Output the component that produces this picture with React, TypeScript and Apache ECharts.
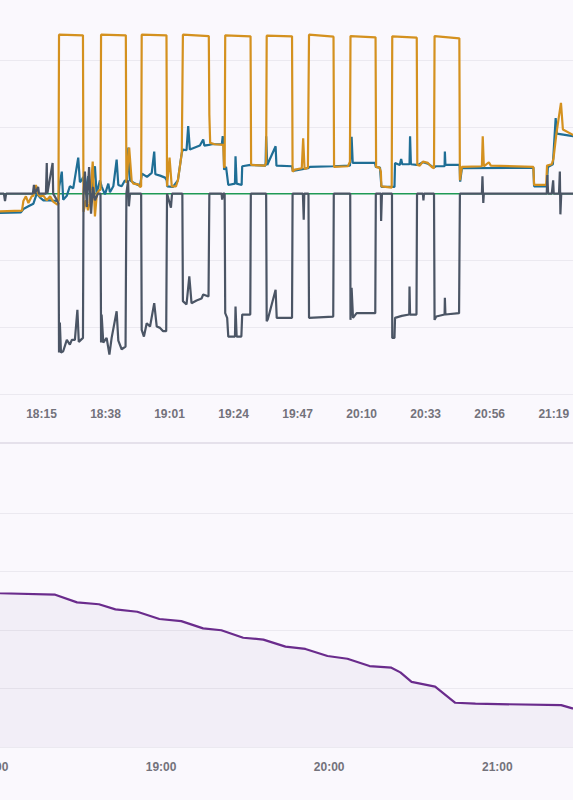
import React, { useEffect, useRef } from "react";
import * as echarts from "echarts";

// minutes are counted from 18:00
const BASE_MIN = 18 * 60;
const TOP_X_MIN = -8; // 17:52
const TOP_X_MAX = 222; // 21:42
const TOP_X_STEP = 23;
const BOTTOM_X_MIN = 0; // 18:00
const BOTTOM_X_MAX = 240; // 22:00
const BOTTOM_X_STEP = 60;

// Power series, W
const solarW: [number, number][] = [[-3, 0], [210, 0]];

const gridW: [number, number][] = [
  [-2.0, -262], [0.1, -265], [8.0, -255], [8.5, -110], [9.4, -40], [10.3, -140], [11.5, -40], [12.1, -30], [13.0, 130], [13.9, -20], [14.5, -40], [15.7, -30], [16.9, -100], [18.1, -40], [19.2, -120], [20.7, -165], [21.1, -150],
  [21.3, 2380], [29.9, 2370],
  [30.1, -270], [31.0, -100], [31.7, -250], [32.2, -150], [32.8, 100], [33.4, 480], [33.9, 0], [34.2, -340], [34.9, 0], [35.7, 50], [36.2, 60],
  [36.4, 2380], [45.3, 2370],
  [45.5, 160], [46.5, 690], [47.4, 190], [48.0, 150], [49.8, 140], [50.4, 100], [50.8, 110],
  [51.0, 2380], [59.9, 2370],
  [60.1, 110], [61.0, 540], [61.8, 110], [63.3, 110], [64.0, 200], [65.4, 610], [65.6, 610],
  [65.8, 2380], [75.1, 2360],
  [75.3, 1180], [75.6, 760], [77.3, 740], [80.3, 730], [80.6, 390], [80.8, 400],
  [81.0, 2370], [90.1, 2355],
  [90.3, 430], [95.3, 420], [95.7, 470],
  [95.9, 2365], [105.0, 2355],
  [105.2, 330], [106.0, 360], [108.5, 380], [109.0, 830], [109.5, 370], [110.7, 390], [110.9, 390],
  [111.1, 2380], [119.9, 2350],
  [120.1, 400], [125.1, 410], [125.8, 480],
  [126.0, 2360], [135.0, 2340],
  [135.2, 400], [136.4, 390], [136.9, 330], [137.1, 110], [140.8, 90],
  [141.0, 2355], [149.8, 2335],
  [150.0, 430], [150.9, 420], [152.0, 480], [153.8, 460], [155.2, 400], [156.0, 380],
  [156.2, 2360], [165.1, 2325],
  [165.3, 200], [166.0, 400], [173.2, 410], [173.5, 860], [173.9, 410], [175.7, 470], [176.4, 420], [191.7, 400], [191.95, 130], [196.3, 130], [196.6, 420], [198.3, 440], [198.9, 520], [200.0, 910], [201.6, 1360], [202.3, 960], [205.9, 880], [210, 875],
];

const loadW: [number, number][] = [
  [-2.0, -290], [0.1, -290], [7.6, -280], [8.5, -230], [10.3, -190], [12.1, -150], [13.3, 0], [14.5, -60], [15.7, -100], [18.1, -100], [20.5, -110], [21.1, -110],
  [21.4, 110], [22.3, 330], [22.8, -90], [24.1, -30], [25.2, 110], [26.4, 80], [28.2, 540], [28.8, 170], [29.4, 200], [30.0, 250],
  [30.6, 0], [31.8, 260], [33.0, 60], [34.2, 410], [34.8, 0], [36.0, 200],
  [36.6, 110], [37.8, -10], [39.0, 150], [39.6, 20], [40.8, 110], [42.0, 510], [42.6, 130], [43.8, 110], [45.0, 200],
  [45.7, 180], [46.2, 690], [46.8, 200], [48.6, 150], [50.4, 120],
  [51.1, 300], [52.9, 250], [54.6, 310], [55.5, 630], [55.9, 290], [57.6, 270], [59.4, 240], [60.0, 200],
  [60.2, 110], [62.2, 100], [64.0, 200], [65.4, 610],
  [65.8, 660], [67.1, 650], [67.7, 1010], [68.3, 660], [70.1, 690], [71.9, 720], [73.1, 810], [73.5, 720], [75.1, 730],
  [76.2, 740], [79.8, 740], [80.1, 860], [80.4, 740], [80.6, 360],
  [81.3, 400], [82.1, 130], [84.5, 150], [84.7, 560], [85.1, 150], [86.9, 130], [87.1, 410], [90.1, 430],
  [95.5, 420], [95.7, 860], [96.1, 430], [99.1, 710], [99.4, 420], [105.0, 410],
  [105.3, 340], [110.7, 380],
  [111.4, 400], [119.7, 410],
  [125.8, 420],
  [126.4, 850], [126.8, 460], [134.8, 460],
  [135.1, 400], [136.6, 390], [137.1, 100], [141.8, 100], [142.0, 460],
  [143.7, 430], [144.2, 520], [144.6, 440], [147.2, 440], [147.4, 860], [147.7, 440], [149.8, 430],
  [150.2, 430], [152.0, 470], [153.8, 450], [155.9, 390],
  [156.7, 410], [159.8, 410], [159.9, 630], [160.1, 430], [165.2, 430],
  [165.4, 180], [166.0, 380], [191.7, 390], [191.95, 110], [196.5, 110], [196.9, 400], [198.7, 440], [199.7, 1130], [200.1, 900], [205.9, 860], [210, 860],
];

const batteryW: [number, number][] = [
  [-2, 0], [1.5, 0], [1.9, -110], [2.3, 0], [11.9, 0], [12.3, 130], [12.7, 0], [13.8, 100], [14.1, 0], [16.6, 0], [16.9, 460], [17.1, 0], [19.0, 460], [19.2, 0], [20.6, -100], [21.1, -150],
  [21.3, -2380], [21.6, -1930], [22.0, -2380], [22.8, -2360], [24.1, -2190], [25.2, -2260], [25.9, -2190], [27.0, -2190], [27.9, -1740], [28.4, -2220], [29.9, -2160],
  [30.1, 0], [30.6, 330], [31.3, -200], [32.1, 400], [32.8, -300], [33.5, 100], [34.2, -100], [35.3, 0], [36.2, 0],
  [36.4, -2230], [36.6, -1810], [37.2, -2230], [38.4, -2160], [39.4, -2410], [40.2, -2160], [42.0, -1760], [42.6, -2200], [43.8, -2330], [45.2, -2290],
  [45.5, 0], [46.1, 200], [46.4, -190], [46.8, 0], [50.8, 0],
  [51.0, -2040], [51.8, -2140], [52.8, -1940], [54.0, -1990], [55.5, -1640], [56.4, -1990], [57.6, -2010], [58.7, -2060], [59.8, -2060],
  [60.1, 0], [61.5, -210], [61.9, 0], [65.6, 0],
  [65.8, -1610], [67.1, -1660], [68.1, -1240], [68.9, -1640], [70.7, -1600], [72.5, -1570], [73.1, -1510], [75.0, -1540],
  [75.3, 0], [79.7, 0], [79.9, -90], [80.2, 0], [80.8, 0],
  [81.0, -1790], [81.7, -1860], [82.1, -2140], [84.5, -2140], [84.7, -1690], [85.1, -2140], [86.8, -2140], [87.1, -1810], [90.0, -1810],
  [90.2, 0], [95.7, 0],
  [95.9, -1910], [96.3, -1880], [99.1, -1440], [99.5, -1860], [105.0, -1860],
  [105.2, 0], [108.9, 0], [109.2, -390], [109.4, 0], [110.9, 0],
  [111.1, -1860], [119.8, -1840],
  [120.0, 0], [125.9, 0],
  [126.0, -1890], [126.4, -1410], [126.9, -1860], [128.2, -1790], [134.9, -1790],
  [135.1, 0], [136.9, 0], [137.0, -410], [137.3, 0], [140.9, 0],
  [141.0, -2160], [141.8, -2160], [142.0, -1860], [144.4, -1830], [147.1, -1810], [147.2, -1390], [147.4, -1810], [149.7, -1810],
  [149.9, 0], [152.0, 0], [152.2, -100], [152.4, 0], [156.0, 0],
  [156.2, -1890], [156.8, -1840], [159.8, -1810], [159.9, -1560], [160.1, -1810], [165.0, -1790],
  [165.3, 0], [173.2, 0], [173.4, 260], [173.7, -140], [173.9, 0], [196.5, 0], [196.7, 280], [197.0, 0], [198.3, 0], [198.8, 200], [199.0, 0], [200.9, 0], [201.2, 330], [201.4, -310], [201.7, 0], [210, 0],
];

// Battery state of charge, %
const socPct: [number, number][] = [
  [0, 65.8], [2.5, 65.7], [22.2, 65.1], [30.0, 61.8], [37.8, 61.0], [43.7, 58.8], [51.5, 57.8], [59.4, 54.7], [67.2, 53.8], [75.0, 50.7], [81.5, 49.9], [89.3, 46.7], [96.5, 45.9], [104.4, 42.9], [111.5, 41.9], [119.4, 38.9], [126.5, 37.7], [134.4, 34.6], [142.2, 33.9], [145.4, 31.9], [149.4, 27.8], [157.8, 25.8], [165.0, 18.9], [172.2, 18.5], [202.8, 17.9], [206.8, 16.5], [212, 15.6],
];

const fmtTime = (v: number) => {
  const t = Math.round(v) + BASE_MIN;
  const h = Math.floor(t / 60);
  const m = t % 60;
  return `${h}:${String(m).padStart(2, "0")}`;
};

const labelStyle = {
  color: "#73727b",
  fontWeight: "bold" as const,
  fontSize: 12,
  fontFamily: "Liberation Sans, Arial, sans-serif",
  margin: 14,
  formatter: fmtTime,
};

const gridLine = { lineStyle: { color: "#ebe9f0", width: 1 } };

export default function App() {
  const ref = useRef<HTMLDivElement>(null);
  useEffect(() => {
    if (!ref.current) return;
    const chart = echarts.init(ref.current, undefined, { renderer: "svg" });
    const lineSeries = (name: string, data: [number, number][], color: string, width = 2.2) => ({
      name,
      type: "line",
      xAxisIndex: 0,
      yAxisIndex: 0,
      data,
      symbol: "none",
      showSymbol: false,
      lineStyle: { color, width },
      itemStyle: { color },
      emphasis: { disabled: true },
    });
    chart.setOption({
      animation: false,
      backgroundColor: "transparent",
      grid: [
        { left: 17.45, top: 13.3, width: 640.3, height: 400.7 },
        { left: 33, top: 533, width: 672.4, height: 234 },
      ],
      xAxis: [
        {
          type: "value", gridIndex: 0, min: TOP_X_MIN, max: TOP_X_MAX, interval: TOP_X_STEP,
          axisLine: { show: false }, axisTick: { show: false }, splitLine: { show: false },
          axisLabel: { ...labelStyle, showMinLabel: false, showMaxLabel: false },
        },
        {
          type: "value", gridIndex: 1, min: BOTTOM_X_MIN, max: BOTTOM_X_MAX, interval: BOTTOM_X_STEP,
          axisLine: { show: false }, axisTick: { show: false }, splitLine: { show: false },
          axisLabel: { ...labelStyle, showMaxLabel: false },
        },
      ],
      yAxis: [
        {
          type: "value", gridIndex: 0, min: -3000, max: 3000, interval: 1000,
          axisLine: { show: false }, axisTick: { show: false }, axisLabel: { show: false },
          splitLine: gridLine,
        },
        {
          type: "value", gridIndex: 1, min: 0, max: 100, interval: 25,
          axisLine: { show: false }, axisTick: { show: false }, axisLabel: { show: false },
          splitLine: gridLine,
        },
      ],
      graphic: [
        { type: "rect", left: 0, top: 462, shape: { width: 760, height: 2 }, style: { fill: "#e5e1eb" }, silent: true },
      ],
      series: [
        lineSeries("Solar", solarW, "#1f9a55", 1.5),
        lineSeries("Load", loadW, "#1f6e95"),
        lineSeries("Grid", gridW, "#d4911f"),
        lineSeries("Battery", batteryW, "#4b5565"),
        {
          name: "SOC",
          type: "line",
          xAxisIndex: 1,
          yAxisIndex: 1,
          data: socPct,
          symbol: "none",
          showSymbol: false,
          lineStyle: { color: "#6a2b8c", width: 2.2 },
          itemStyle: { color: "#6a2b8c" },
          areaStyle: { color: "rgba(110, 70, 150, 0.08)" },
          emphasis: { disabled: true },
        },
      ],
    });
    return () => chart.dispose();
  }, []);

  return (
    <div style={{ position: "fixed", left: 0, top: 0, width: 573, height: 800, overflow: "hidden", background: "#faf8fd" }}>
      <div ref={ref} style={{ position: "absolute", left: -40, top: -20, width: 720, height: 820 }} />
    </div>
  );
}
